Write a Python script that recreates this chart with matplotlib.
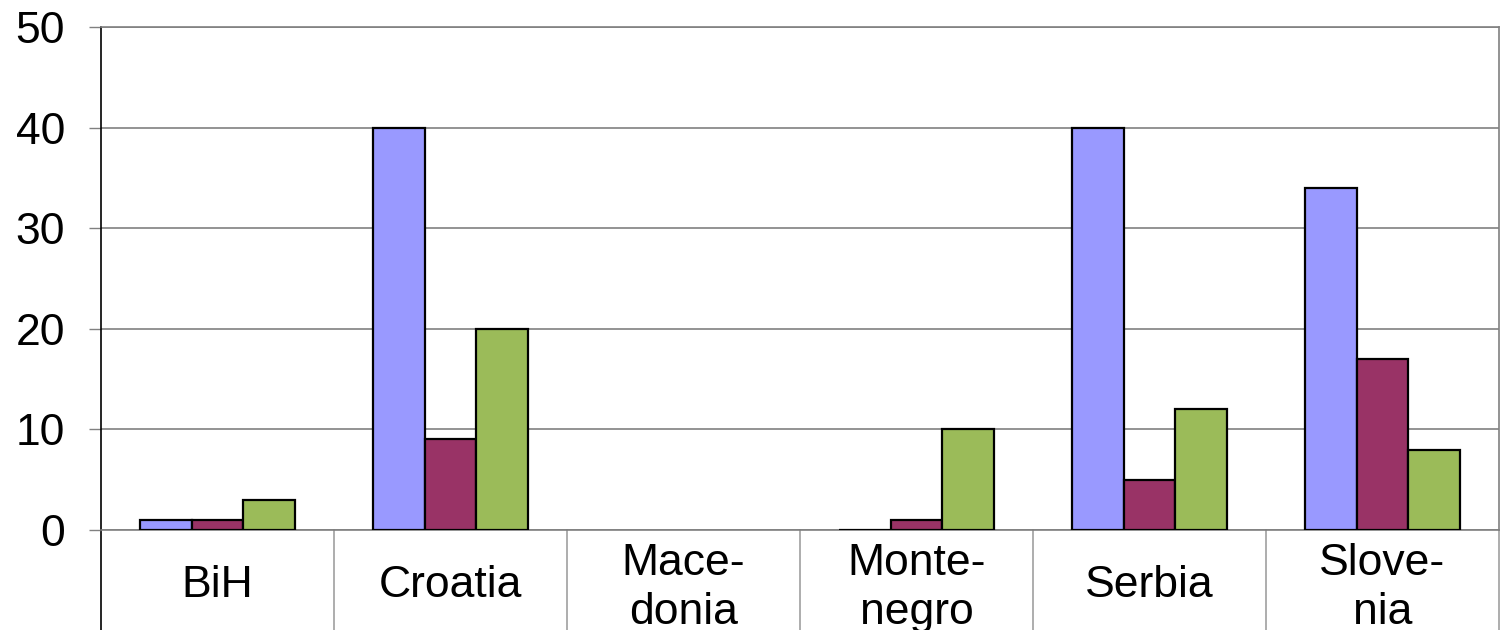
import matplotlib
matplotlib.use("Agg")
import matplotlib.pyplot as plt
import numpy as np
from matplotlib.transforms import blended_transform_factory

plt.rcParams['font.family'] = ['Liberation Sans', 'DejaVu Sans']

categories = ["BiH", "Croatia", "Mace-\ndonia", "Monte-\nnegro", "Serbia", "Slove-\nnia"]
nan = float("nan")
series_a = [1, 40, nan, 0, 40, 34]
series_b = [1, 9, nan, 1, 5, 17]
series_c = [3, 20, nan, 10, 12, 8]
y_ticks = [0, 10, 20, 30, 40, 50]

colors = ["#9999FF", "#993366", "#9BBB59"]

W, H = 1501, 630
fig = plt.figure(figsize=(W / 100, H / 100), dpi=100)
ax = fig.add_axes([101 / W, (H - 530) / H, (1499 - 101) / W, (530 - 27) / H])

x = np.arange(len(categories))
bw = 0.223
for i, (vals, c) in enumerate(zip([series_a, series_b, series_c], colors)):
    ax.bar(x + (i - 1) * bw, vals, width=bw, color=c, edgecolor="black",
           linewidth=1.6, zorder=3)

ax.set_xlim(-0.5, len(categories) - 0.5)
ax.set_ylim(0, 50)
ax.set_yticks(y_ticks)
ax.set_yticklabels([str(v) for v in y_ticks], fontsize=32)
ax.yaxis.grid(True, color="#808080", linewidth=1.2, zorder=0)
ax.tick_params(axis="y", length=9, width=1, color="#808080", pad=17)
ax.set_xticks([])

for side in ["top", "right", "bottom"]:
    ax.spines[side].set_color("#808080")
    ax.spines[side].set_linewidth(1.2)
ax.spines["left"].set_color("black")
ax.spines["left"].set_linewidth(1.2)

# category area below the axis
span = 530 - 27
below = -(630 - 530) / span
tr = blended_transform_factory(ax.transData, ax.transAxes)
for b in np.arange(len(categories) + 1) - 0.5:
    col = "black" if b == -0.5 else "#A0A0A0"
    ax.plot([b, b], [0, below], transform=tr, color=col, linewidth=1.2,
            clip_on=False, zorder=1)

# labels anchored on the baseline of each line
for xi, lab in zip(x, categories):
    lines = lab.split("\n")
    bases = [575, 624] if len(lines) == 2 else [597]
    for text, base in zip(lines, bases):
        ax.text(xi, -(base - 530) / span, text, transform=tr, ha="center",
                va="baseline", fontsize=32, clip_on=False)

fig.savefig("out.png", dpi=100)
